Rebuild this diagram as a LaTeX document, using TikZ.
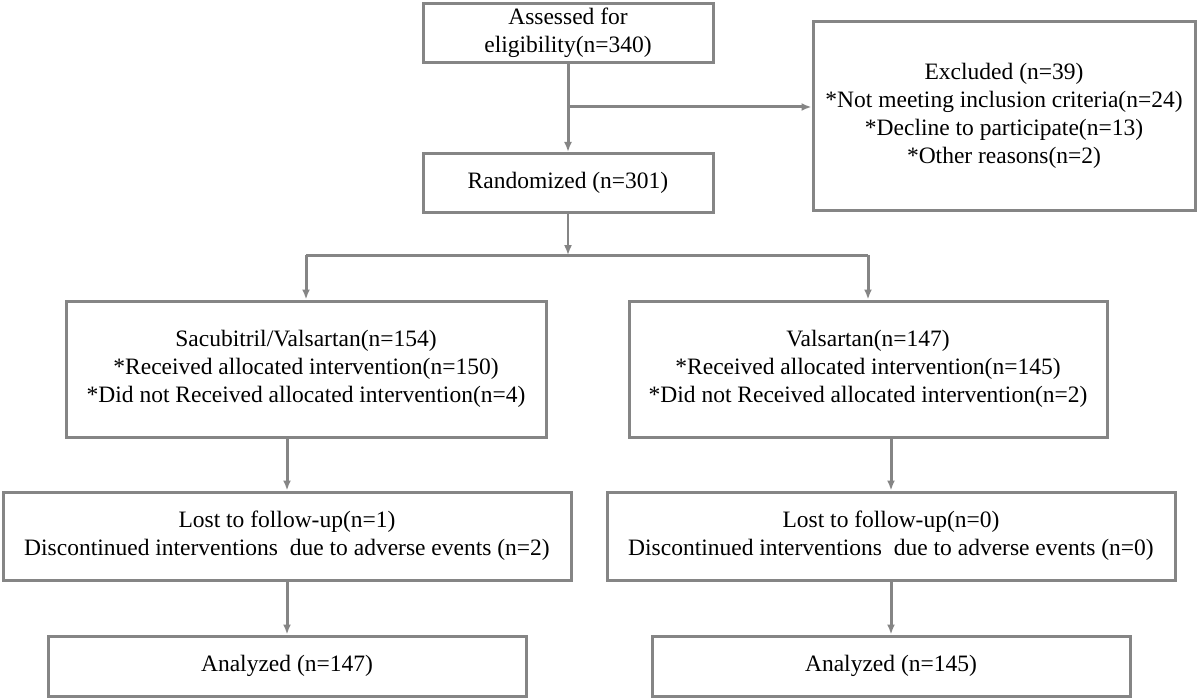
\documentclass[tikz,border=0pt]{standalone}
\usepackage{fontspec}
\setmainfont{Liberation Serif}
\usetikzlibrary{arrows.meta}
\definecolor{lc}{HTML}{858585}
\begin{document}
\begin{tikzpicture}[x=1pt,y=-1pt,
  bx/.style={draw=lc,line width=3pt,fill=white,align=center,inner sep=0pt,
    font=\fontsize{23.5}{28}\selectfont},
  ar/.style={draw=lc,line width=3pt,-{Latex[length=10pt,width=8pt]}},
  ln/.style={draw=lc,line width=3pt}]
\useasboundingbox (0,0) rectangle (1200,698);
\node[bx,minimum width=290pt,minimum height=59pt] (a) at (568,33) {Assessed for\\eligibility(n=340)};
\node[bx,minimum width=382pt,minimum height=188pt] (ex) at (1004,116) {Excluded (n=39)\\*Not meeting inclusion criteria(n=24)\\*Decline to participate(n=13)\\*Other reasons(n=2)};
\node[bx,minimum width=290pt,minimum height=59pt] (r) at (568,183) {Randomized (n=301)};
\node[bx,minimum width=480pt,minimum height=136pt] (l1) at (306,369) {Sacubitril/Valsartan(n=154)\\*Received allocated intervention(n=150)\\*Did not Received allocated intervention(n=4)};
\node[bx,minimum width=478pt,minimum height=136pt] (r1) at (868,369) {Valsartan(n=147)\\*Received allocated intervention(n=145)\\*Did not Received allocated intervention(n=2)};
\node[bx,minimum width=568pt,minimum height=88pt] (l2) at (287,536) {Lost to follow-up(n=1)\\Discontinued interventions\ \ due to adverse events (n=2)};
\node[bx,minimum width=568pt,minimum height=88pt] (r2) at (891,536) {Lost to follow-up(n=0)\\Discontinued interventions\ \ due to adverse events (n=0)};
\node[bx,minimum width=478pt,minimum height=60pt] (l3) at (287,666) {Analyzed (n=147)};
\node[bx,minimum width=478pt,minimum height=60pt] (r3) at (891,666) {Analyzed (n=145)};
\coordinate (j) at (568,107);
\coordinate (s) at (568,255);
\draw[ar] (a) -- (r);
\draw[ar] (j) -- (ex.west|-j);
\draw[ar,line width=1.6pt] (r) -- (s);
\draw[ln] (l1.north|-s) -- (r1.north|-s);
\draw[ar] (l1.north|-s) -- (l1);
\draw[ar] (r1.north|-s) -- (r1);
\draw[ar] (l1.south-|l2) -- (l2);
\draw[ar] (l2) -- (l3);
\draw[ar] (r1.south-|r2) -- (r2);
\draw[ar] (r2) -- (r3);
\end{tikzpicture}
\end{document}
